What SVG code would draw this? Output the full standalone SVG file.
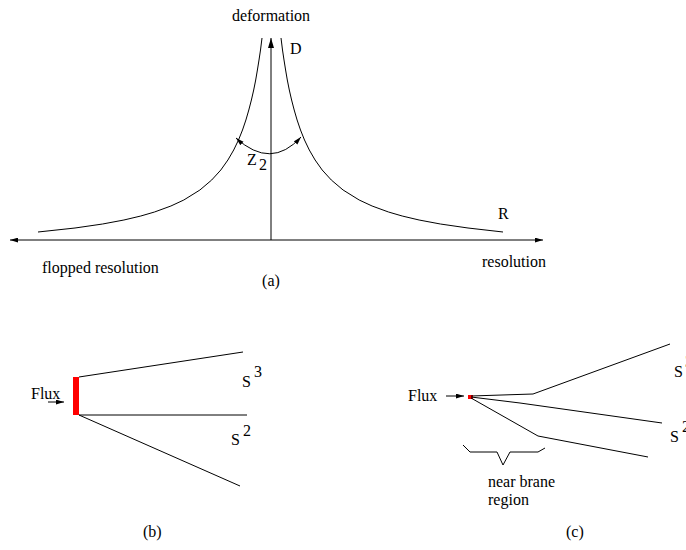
<svg xmlns="http://www.w3.org/2000/svg" width="686" height="550" viewBox="0 0 686 550">
<defs>
<marker id="ah" viewBox="0 0 10 6" refX="10" refY="3" markerWidth="10" markerHeight="6" markerUnits="userSpaceOnUse" orient="auto">
<path d="M0,0 L10,3 L0,6 Z" fill="#000"/>
</marker>
<marker id="ahs" viewBox="0 0 10 6" refX="10" refY="3" markerWidth="8" markerHeight="5" markerUnits="userSpaceOnUse" orient="auto-start-reverse">
<path d="M0,0 L10,3 L0,6 Z" fill="#000"/>
</marker>
</defs>
<style>
.l{fill:none;stroke:#000;stroke-width:1}
.t{font-family:"Liberation Serif",serif;fill:#000;font-size:16px}
</style>
<rect width="686" height="550" fill="#fff"/>
<g id="panel-a">
<text class="t" x="271" y="21" text-anchor="middle">deformation</text>
<text class="t" x="290" y="54" font-size="17">D</text>
<text class="t" x="247" y="165" font-size="17">Z</text>
<text class="t" x="259" y="170" font-size="13">2</text>
<text class="t" x="498" y="219" font-size="17">R</text>
<text class="t" x="42" y="273">flopped resolution</text>
<text class="t" x="482" y="267">resolution</text>
<text class="t" x="271" y="286" text-anchor="middle">(a)</text>
</g>
<g id="connectors">
<line class="l" x1="271" y1="240" x2="271" y2="38" marker-end="url(#ah)"/>
<line class="l" x1="10" y1="240" x2="543" y2="240" marker-start="url(#ahs)" marker-end="url(#ahs)"/>
<polyline class="l" points="262,38 260.5,50 259,60 257.4,70 255.7,80 253.7,90 251.4,100 248.8,110 245.9,120 242.5,130 238.5,140 233.7,150 227.9,160 220.8,170 211.7,180 199.9,190 183.8,200 170.9,206 154.5,212 140.8,216 123.9,220 102.6,224 75,228 38,232"/>
<polyline class="l" points="281,38 282.5,50 284,60 285.6,70 287.3,80 289.3,90 291.6,100 294.2,110 297.1,120 300.5,130 304.5,140 309.3,150 315.1,160 322.2,170 331.3,180 343.1,190 359.2,200 372.1,206 388.5,212 402.2,216 419.1,220 440.4,224 468,228 503,232"/>
<path class="l" d="M236,138 Q271,170 301,137" marker-start="url(#ahs)" marker-end="url(#ahs)"/>
</g>
<g id="panel-b">
<text class="t" x="31" y="399" font-size="17">Flux</text>
<line class="l" x1="48" y1="402" x2="64" y2="402" marker-end="url(#ahs)"/>
<rect x="73" y="377" width="6" height="38" fill="#ff0000"/>
<line class="l" x1="79" y1="377" x2="243" y2="352"/>
<line class="l" x1="79" y1="415" x2="247" y2="415"/>
<line class="l" x1="79" y1="415" x2="240" y2="486"/>
<text class="t" x="242" y="387" font-size="17">S</text>
<text class="t" x="254" y="377" font-size="12">3</text>
<text class="t" x="231" y="445" font-size="17">S</text>
<text class="t" x="243" y="436" font-size="12">2</text>
<text class="t" x="143" y="537">(b)</text>
</g>
<g id="panel-c">
<text class="t" x="408" y="401" font-size="17">Flux</text>
<line class="l" x1="446" y1="396" x2="464" y2="396" marker-end="url(#ahs)"/>
<rect x="468" y="395" width="5" height="4" fill="#ff0000"/>
<polyline class="l" points="471,396 533,394 670,344"/>
<polyline class="l" points="471,397 520,403 662,423"/>
<polyline class="l" points="471,398 538,436 648,457"/>
<polyline class="l" points="463,445 470,452 497,452 503,465 510,452 538,452 545,448"/>
<text class="t" x="674" y="377" font-size="17">S</text>
<text class="t" x="685" y="367" font-size="12">3</text>
<text class="t" x="670" y="442" font-size="17">S</text>
<text class="t" x="682" y="432" font-size="12">2</text>
<text class="t" x="488" y="487">near brane</text>
<text class="t" x="488" y="505">region</text>
<text class="t" x="566" y="537">(c)</text>
</g>
</svg>
